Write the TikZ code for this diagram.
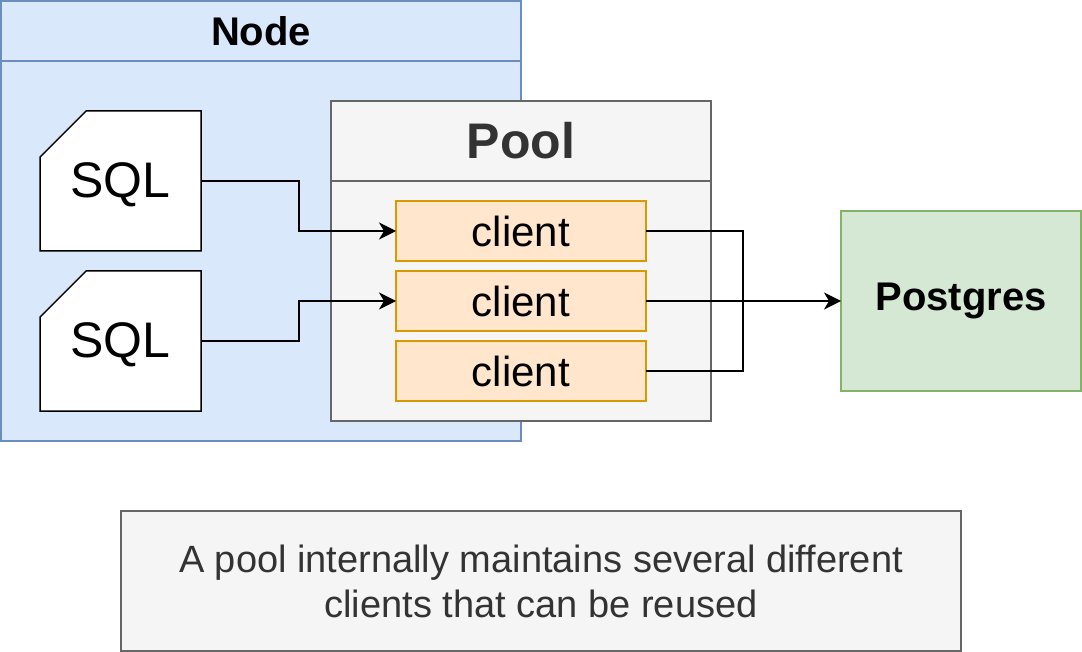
\documentclass[tikz,border=0pt]{standalone}
\usepackage{fontspec}
\setmainfont{Liberation Sans}
\usetikzlibrary{arrows.meta,shapes.misc}
\definecolor{nodefill}{HTML}{DAE8FC}
\definecolor{nodestroke}{HTML}{6C8EBF}
\definecolor{poolfill}{HTML}{F5F5F5}
\definecolor{poolstroke}{HTML}{666666}
\definecolor{pooltext}{HTML}{333333}
\definecolor{clientfill}{HTML}{FFE6CC}
\definecolor{clientstroke}{HTML}{D79B00}
\definecolor{pgfill}{HTML}{D5E8D4}
\definecolor{pgstroke}{HTML}{82B366}
\tikzset{
  box/.style={rectangle, line width=1.5pt, inner sep=0pt, outer sep=0pt, anchor=center},
  nodebox/.style={box, draw=nodestroke, fill=nodefill, minimum width=520pt, minimum height=440pt},
  poolbox/.style={box, draw=poolstroke, fill=poolfill, minimum width=380pt, minimum height=320pt},
  clientbox/.style={box, draw=clientstroke, fill=clientfill, minimum width=250pt, minimum height=60pt, font=\fontsize{42}{50}\selectfont},
  pgbox/.style={box, draw=pgstroke, fill=pgfill, minimum width=240pt, minimum height=180pt, font=\fontsize{40}{48}\selectfont\bfseries},
  sqlcard/.style={chamfered rectangle, chamfered rectangle corners=north west,
    chamfered rectangle xsep=24pt, chamfered rectangle ysep=24pt,
    draw=black, fill=white, line width=1.5pt, inner sep=0pt, outer sep=0pt,
    minimum width=161pt, minimum height=140pt, font=\fontsize{50}{58}\selectfont},
  capbox/.style={box, draw=poolstroke, fill=poolfill, minimum width=840pt, minimum height=140pt,
    text=pooltext, align=center, font=\fontsize{38}{45}\selectfont},
  conn/.style={line width=1.5pt, draw=black},
  arr/.style={conn, -{Stealth[length=17pt, width=17pt, inset=5pt]}},
  title/.style={inner sep=0pt, anchor=center}
}
\begin{document}
\begin{tikzpicture}[x=1pt,y=-1pt]
\useasboundingbox (0,0) rectangle (1082,652);
% Node container
\node[nodebox] (nodec) at (261,221) {};
\draw[line width=1.5pt, draw=nodestroke] (nodec.west |- 0,61) -- (nodec.east |- 0,61);
\node[title, font=\fontsize{40}{48}\selectfont\bfseries] (nodet) at (261,31) {Node};
% SQL cards
\node[sqlcard] (sql1) at (120.5,181) {\raisebox{-4pt}[\height][\depth]{SQL}};
\node[sqlcard] (sql2) at (120.5,341) {\raisebox{-4pt}[\height][\depth]{SQL}};
% Pool container
\node[poolbox] (pool) at (521,261) {};
\draw[line width=1.5pt, draw=poolstroke] (pool.west |- 0,181) -- (pool.east |- 0,181);
\node[title, text=pooltext, font=\fontsize{50}{58}\selectfont\bfseries] (poolt) at (521,141) {Pool};
% clients
\node[clientbox] (c1) at (521,231) {client};
\node[clientbox] (c2) at (521,301) {client};
\node[clientbox] (c3) at (521,371) {client};
% Postgres
\node[pgbox] (pg) at (961,301) {Postgres};
% caption
\node[capbox] (cap) at (541,581) {A pool internally maintains several different\\clients that can be reused};
% connectors
\coordinate (j1) at (299,231);
\coordinate (j2) at (299,301);
\coordinate (jn) at (743,301);
\draw[arr] (sql1.east) -| (j1) -- (c1.west);
\draw[arr] (sql2.east) -| (j2) -- (c2.west);
\draw[conn] (c1.east) -| (jn);
\draw[conn] (c3.east) -| (jn);
\draw[arr] (c2.east) -- (pg.west);
\end{tikzpicture}
\end{document}
